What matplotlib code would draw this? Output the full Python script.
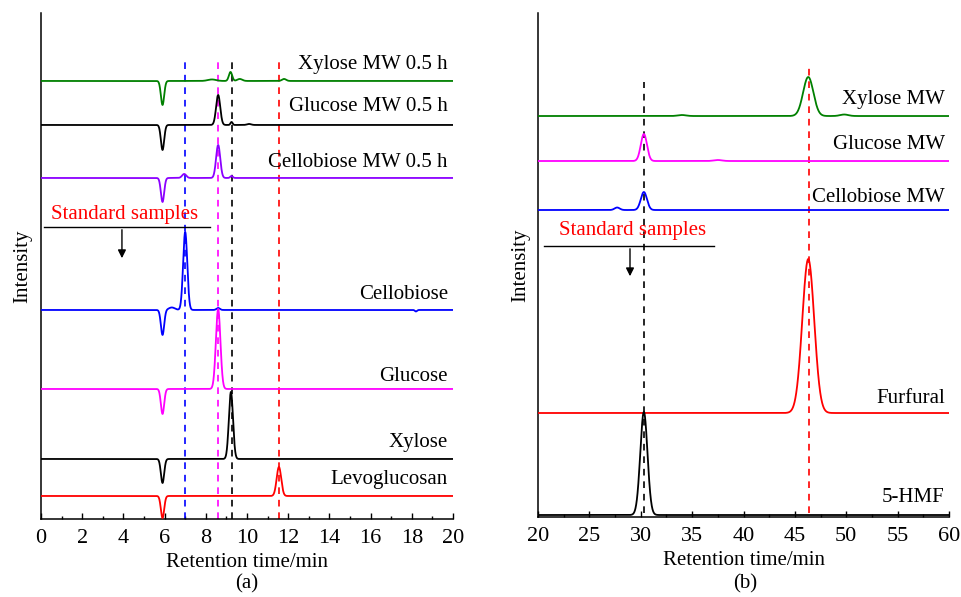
import numpy as np
import matplotlib.pyplot as plt
from matplotlib.ticker import MultipleLocator

plt.rcParams['font.family'] = ['Liberation Serif', 'DejaVu Serif']
plt.rcParams['font.size'] = 15

# --- Panel (a): retention time 0-20 min ---
a_names = ["Xylose MW 0.5 h", "Glucose MW 0.5 h", "Cellobiose MW 0.5 h",
           "Cellobiose", "Glucose", "Xylose", "Levoglucosan"]
a_baseline = [438, 394, 341, 209, 130, 60, 23]
# peak tables: retention time, height, width
a_peak_rt = [[5.9, 8.3, 9.2, 9.65, 11.8],
             [5.9, 8.6, 9.25, 10.1],
             [5.9, 6.95, 8.6, 9.25],
             [5.9, 6.35, 7.0, 8.6, 18.2],
             [5.9, 8.6],
             [5.9, 9.22],
             [5.9, 11.55]]
a_peak_h = [[-24, 1.5, 9, 2, 2],
            [-25, 30, 3, 1],
            [-24, 4, 33, 2],
            [-25, 2.5, 78, 2, -1.5],
            [-25, 80],
            [-24, 67],
            [-22, 29]]
a_peak_w = [[0.08, 0.2, 0.08, 0.12, 0.1],
            [0.08, 0.1, 0.05, 0.1],
            [0.08, 0.1, 0.1, 0.06],
            [0.08, 0.15, 0.1, 0.08, 0.05],
            [0.08, 0.11],
            [0.08, 0.1],
            [0.08, 0.11]]
a_ref_rt = [6.97, 8.58, 9.25, 11.55]

# --- Panel (b): retention time 20-60 min ---
b_names = ["Xylose MW", "Glucose MW", "Cellobiose MW", "Furfural", "5-HMF"]
b_baseline = [401, 356, 307, 104, 2]
b_peak_rt = [[46.3, 49.8, 34.0],
             [30.3, 37.5],
             [27.7, 30.3],
             [46.3],
             [30.3]]
b_peak_h = [[39, 1.5, 1],
            [27, 1],
            [2.5, 18],
            [154],
            [103]]
b_peak_w = [[0.5, 0.4, 0.4],
            [0.3, 0.4],
            [0.25, 0.3],
            [0.58],
            [0.35]]
b_ref_rt = [30.3, 46.35]

# --- styles and layout ---
a_colors = ['#008000', 'black', '#8B00FF', 'blue', '#FF00FF', 'black', 'red']
a_label_y = [454, 412, 356, 224, 142, 76, 39]
a_ref_colors = ['blue', '#FF00FF', 'black', 'red']
b_colors = ['#008000', '#FF00FF', 'blue', 'red', 'black']
b_label_y = [418, 373, 320, 119, 20]
b_ref_colors = ['black', 'red']
b_ref_top = [435, 450]


def trace(x, base, rts, hs, ws):
    y = np.full_like(x, float(base))
    for rt, h, w in zip(rts, hs, ws):
        y += h * np.exp(-0.5 * ((x - rt) / w) ** 2)
    return y


def style_axes(ax, xmin, xmax, major, minor, ytop):
    ax.set_xlim(xmin, xmax)
    ax.set_ylim(0, ytop)
    ax.spines['top'].set_visible(False)
    ax.spines['right'].set_visible(False)
    ax.spines['left'].set_linewidth(1.1)
    ax.spines['bottom'].set_linewidth(1.1)
    ax.set_yticks([])
    ax.xaxis.set_major_locator(MultipleLocator(major))
    ax.xaxis.set_minor_locator(MultipleLocator(minor))
    ax.tick_params(axis='x', which='major', direction='in', length=4.5, width=1,
                   pad=7, labelsize=16)
    ax.tick_params(axis='x', which='minor', direction='in', length=2.5, width=1)
    ax.set_xlabel("Retention time/min", labelpad=4)
    ax.set_ylabel("Intensity")


fig = plt.figure(figsize=(9.62, 5.97), dpi=100)
ax1 = fig.add_axes([0.0426, 0.1307, 0.4283, 0.8476])
ax2 = fig.add_axes([0.5593, 0.134, 0.4272, 0.8442])

# panel (a)
xa = np.linspace(0, 20, 3000)
for i in range(len(a_names)):
    ax1.plot(xa, trace(xa, a_baseline[i], a_peak_rt[i], a_peak_h[i], a_peak_w[i]),
             color=a_colors[i], lw=1.3, zorder=3)
    ax1.text(19.75, a_label_y[i], a_names[i], ha='right', va='center')
for rt, c in zip(a_ref_rt, a_ref_colors):
    ax1.plot([rt, rt], [0, 457], color=c, lw=1.2, ls=(0, (4, 3.5)), zorder=2)
ax1.text(0.5, 304, "Standard samples", color='red', ha='left', va='center')
ax1.plot([0.15, 8.2], [292, 292], color='black', lw=1)
ax1.annotate("", xy=(3.93, 258), xytext=(3.93, 292),
             arrowprops=dict(arrowstyle='-|>', color='black', lw=1, mutation_scale=12))
style_axes(ax1, 0, 20, 2, 1, 506)
ax1.yaxis.set_label_coords(-0.022, 0.5)

# panel (b)
xb = np.linspace(20, 60, 3000)
for i in range(len(b_names)):
    ax2.plot(xb, trace(xb, b_baseline[i], b_peak_rt[i], b_peak_h[i], b_peak_w[i]),
             color=b_colors[i], lw=1.3, zorder=3)
    ax2.text(59.6, b_label_y[i], b_names[i], ha='right', va='center')
for rt, c, top in zip(b_ref_rt, b_ref_colors, b_ref_top):
    ax2.plot([rt, rt], [4, top], color=c, lw=1.2, ls=(0, (4, 3.5)), zorder=2)
ax2.text(22.0, 287, "Standard samples", color='red', ha='left', va='center')
ax2.plot([20.6, 37.1], [271, 271], color='black', lw=1)
ax2.annotate("", xy=(28.95, 238), xytext=(28.95, 271),
             arrowprops=dict(arrowstyle='-|>', color='black', lw=1, mutation_scale=12))
style_axes(ax2, 20, 60, 5, 2.5, 504)
ax2.yaxis.set_label_coords(-0.02, 0.5)

fig.text(247 / 962, 1 - 584 / 597, "(a)", ha='center', va='center')
fig.text(745 / 962, 1 - 584 / 597, "(b)", ha='center', va='center')

fig.savefig("out.png", dpi=100)
